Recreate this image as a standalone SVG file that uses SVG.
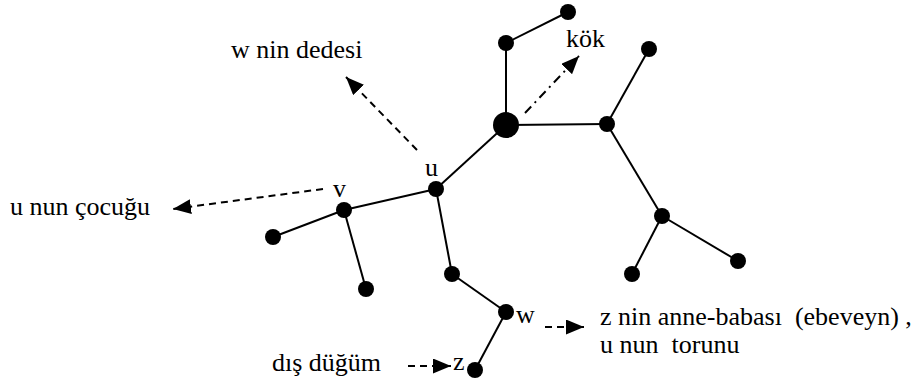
<svg xmlns="http://www.w3.org/2000/svg" width="922" height="385" viewBox="0 0 922 385">
<style>
.e{stroke:#000;stroke-width:2;fill:none}
.d{stroke:#000;stroke-width:2;fill:none;stroke-dasharray:7 5}
.dd{stroke:#000;stroke-width:2;fill:none;stroke-dasharray:9 5 2 5}
.n{fill:#000}
</style>
<defs>
<marker id="ah" markerUnits="userSpaceOnUse" markerWidth="19" markerHeight="15" refX="18" refY="7.5" orient="auto">
<path d="M0,0 L18,7.5 L0,15 z" fill="#000"/>
</marker>
</defs>
<rect width="922" height="385" fill="#fff"/>
<g id="edges">
<line class="e" x1="506" y1="125" x2="506" y2="43"/>
<line class="e" x1="506" y1="43" x2="568" y2="12"/>
<line class="e" x1="506" y1="125" x2="607" y2="124"/>
<line class="e" x1="607" y1="124" x2="649" y2="49"/>
<line class="e" x1="607" y1="124" x2="662" y2="216"/>
<line class="e" x1="662" y1="216" x2="632" y2="274"/>
<line class="e" x1="662" y1="216" x2="738" y2="261"/>
<line class="e" x1="506" y1="125" x2="436" y2="189"/>
<line class="e" x1="436" y1="189" x2="344" y2="210"/>
<line class="e" x1="344" y1="210" x2="273" y2="237"/>
<line class="e" x1="344" y1="210" x2="366" y2="289"/>
<line class="e" x1="436" y1="189" x2="452" y2="274"/>
<line class="e" x1="452" y1="274" x2="506" y2="312"/>
<line class="e" x1="506" y1="312" x2="475" y2="370"/>
</g>
<g id="connectors">
<line class="dd" x1="525" y1="113" x2="579" y2="56" marker-end="url(#ah)"/>
<line class="d" x1="417" y1="150" x2="346" y2="77" marker-end="url(#ah)"/>
<line class="d" x1="323" y1="189" x2="173" y2="209" marker-end="url(#ah)"/>
<line class="d" x1="545" y1="327" x2="584" y2="327" marker-end="url(#ah)"/>
<line class="d" x1="408" y1="366" x2="451" y2="366" marker-end="url(#ah)"/>
</g>
<g id="root"><circle class="n" cx="506" cy="125" r="13"/></g>
<g id="n_top"><circle class="n" cx="506" cy="43" r="8"/></g>
<g id="n_topright"><circle class="n" cx="568" cy="12" r="8"/></g>
<g id="n_right"><circle class="n" cx="607" cy="124" r="8"/></g>
<g id="n_rightup"><circle class="n" cx="649" cy="49" r="8"/></g>
<g id="n_rightdown"><circle class="n" cx="662" cy="216" r="8"/></g>
<g id="n_rd1"><circle class="n" cx="632" cy="274" r="8"/></g>
<g id="n_rd2"><circle class="n" cx="738" cy="261" r="8"/></g>
<g id="u"><circle class="n" cx="436" cy="189" r="8"/></g>
<g id="v"><circle class="n" cx="344" cy="210" r="8"/></g>
<g id="v1"><circle class="n" cx="273" cy="237" r="8"/></g>
<g id="v2"><circle class="n" cx="366" cy="289" r="8"/></g>
<g id="u2"><circle class="n" cx="452" cy="274" r="8"/></g>
<g id="w"><circle class="n" cx="506" cy="312" r="8"/></g>
<g id="z"><circle class="n" cx="475" cy="370" r="8"/></g>
<g id="labels" font-family="'Liberation Serif', 'Times New Roman', 'DejaVu Serif', serif" font-size="26" fill="#000">
<text x="566" y="47">kök</text>
<text x="231" y="58">w nin dedesi</text>
<text x="425" y="176">u</text>
<text x="333" y="197">v</text>
<text x="10" y="215">u nun çocuğu</text>
<text x="516" y="323">w</text>
<text x="600" y="325" xml:space="preserve">z nin anne-babası  (ebeveyn) ,</text>
<text x="600" y="353" xml:space="preserve">u nun  torunu</text>
<text x="272" y="371">dış düğüm</text>
<text x="453" y="370">z</text>
</g>
</svg>
